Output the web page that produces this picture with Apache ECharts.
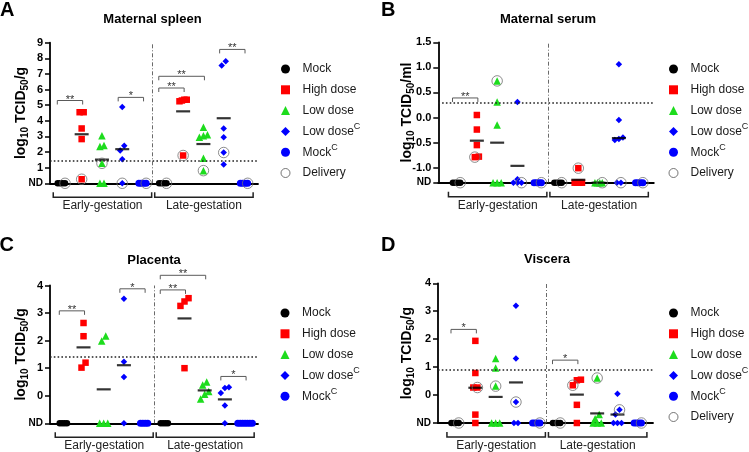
<!DOCTYPE html>
<html><head><meta charset="utf-8">
<script src="https://cdn.jsdelivr.net/npm/echarts@6/dist/echarts.min.js"></script>
<style>html,body{margin:0;padding:0;background:#fff}#c{width:749px;height:452px}</style>
</head><body><div id="c"></div>
<script>
// ---------------- data (log10 TCID50; 'ND' = not detected) ----------------
const groups = ['Mock', 'High dose', 'Low dose', 'Low dose^C', 'Mock^C'];
const gestations = ['Early-gestation', 'Late-gestation'];

// A  Maternal spleen
const spleenTicks = [0, 1, 2, 3, 4, 5, 6, 7, 8, 9];
const spleenLimit = 1.45;
const spleenEarly = [
  ['ND', 'ND', 'ND', 'ND'],
  [4.55, 4.55, 3.51, 2.83, 0.26],
  [3.04, 2.42, 2.36, 1.28, 'ND', 'ND'],
  [4.88, 2.40, 2.10, 1.54, 'ND'],
  ['ND', 'ND', 'ND', 'ND']
];
const spleenLate = [
  ['ND', 'ND', 'ND', 'ND'],
  [5.35, 5.35, 5.30, 5.25, 1.78],
  [3.58, 3.10, 3.04, 2.95, 1.60, 0.81],
  [7.82, 7.54, 3.51, 2.95, 1.97, 1.20],
  ['ND', 'ND', 'ND', 'ND']
];
const spleenEarlyDelivery = [['ND'], [0.26], [1.28], ['ND'], ['ND']];
const spleenLateDelivery = [['ND'], [1.78], [0.81], [1.97], ['ND']];
const spleenSig = [[0, 1, 5.3, '**'], [3, 4, 5.5, '*'], [5, 6, 6.1, '**'], [5, 7, 6.85, '**'], [8, 9, 8.57, '**']];

// B  Maternal serum
const serumTicks = [-1.3, -1.0, -0.5, 0.0, 0.5, 1.0, 1.5];
const serumLimit = 0.3;
const serumEarly = [
  ['ND', 'ND', 'ND', 'ND'],
  [0.05, -0.24, -0.55, -0.78, -0.79],
  [0.73, 0.31, -0.15, 'ND', 'ND', 'ND'],
  [0.31, -1.23, 'ND', 'ND', 'ND'],
  ['ND', 'ND', 'ND', 'ND']
];
const serumLate = [
  ['ND', 'ND', 'ND', 'ND'],
  [-1.01, 'ND', 'ND', 'ND', 'ND'],
  ['ND', 'ND', 'ND', 'ND'],
  [1.06, -0.05, -0.40, -0.43, -0.45, 'ND', 'ND'],
  ['ND', 'ND', 'ND', 'ND']
];
const serumEarlyDelivery = [['ND'], [-0.79], [0.73], ['ND'], ['ND']];
const serumLateDelivery = [['ND'], [-1.01], ['ND'], ['ND'], ['ND']];
const serumSig = [[0, 1, 0.39, '**']];

// C  Placenta
const placentaTicks = [-1, 0, 1, 2, 3, 4];
const placentaLimit = 1.43;
const placentaEarly = [
  ['ND', 'ND', 'ND', 'ND'],
  [2.64, 2.16, 1.20, 1.02],
  [2.17, 1.99, 'ND', 'ND', 'ND'],
  [3.52, 1.23, 0.68, 'ND'],
  ['ND', 'ND', 'ND', 'ND']
];
const placentaLate = [
  ['ND', 'ND', 'ND', 'ND'],
  [3.54, 3.42, 3.26, 1.00],
  [0.50, 0.39, 0.15, 0.05, -0.12],
  [0.31, 0.28, 0.10, -0.35, 'ND'],
  ['ND', 'ND', 'ND', 'ND', 'ND', 'ND', 'ND']
];
const placentaSig = [[0, 1, 3.08, '**'], [3, 4, 3.88, '*'], [5, 6, 3.84, '**'], [5, 7, 4.37, '**'], [8, 9, 0.7, '*']];

// D  Viscera
const visceraTicks = [-1, 0, 1, 2, 3, 4];
const visceraLimit = 0.92;
const visceraEarly = [
  ['ND', 'ND', 'ND', 'ND'],
  [1.94, 0.79, 0.27, 0.27, -0.70, 'ND'],
  [1.31, 0.97, 0.32, 'ND', 'ND', 'ND'],
  [3.20, 1.31, -0.25, 'ND', 'ND'],
  ['ND', 'ND', 'ND', 'ND']
];
const visceraLate = [
  ['ND', 'ND', 'ND', 'ND'],
  [0.55, 0.53, 0.35, -0.35, 'ND'],
  [0.61, -0.70, -0.85, 'ND', 'ND', 'ND'],
  [0.05, -0.53, -0.70, 'ND', 'ND', 'ND'],
  ['ND', 'ND', 'ND', 'ND']
];
const visceraEarlyDelivery = [['ND'], [0.27], [0.32], [-0.25], ['ND']];
const visceraLateDelivery = [['ND'], [0.35], [0.61], [-0.53], ['ND']];
const visceraSig = [[0, 1, 2.35, '*'], [5, 6, 1.25, '*']];

// ---------------- panels ----------------
const panels = [
  { letter: 'A', title: 'Maternal spleen', unit: 'g', ticks: spleenTicks, dec: 0, limit: spleenLimit,
    phases: [spleenEarly, spleenLate], delivery: [spleenEarlyDelivery, spleenLateDelivery], sig: spleenSig },
  { letter: 'B', title: 'Maternal serum', unit: 'ml', ticks: serumTicks, dec: 1, limit: serumLimit,
    phases: [serumEarly, serumLate], delivery: [serumEarlyDelivery, serumLateDelivery], sig: serumSig },
  { letter: 'C', title: 'Placenta', unit: 'g', ticks: placentaTicks, dec: 0, limit: placentaLimit,
    phases: [placentaEarly, placentaLate], delivery: null, sig: placentaSig },
  { letter: 'D', title: 'Viscera', unit: 'g', ticks: visceraTicks, dec: 0, limit: visceraLimit,
    phases: [visceraEarly, visceraLate], delivery: [visceraEarlyDelivery, visceraLateDelivery], sig: visceraSig }
];

// layout (pixels)
const layouts = [
  { grid: { left: 50, top: 42.7, width: 208, height: 140.6 }, xMin: -0.56, xMax: 9.69, legend: [280.5, 60], title: [152.5, 19], letter: [0, 10.5], nameGap: 20 },
  { grid: { left: 438.3, top: 42.3, width: 215.5, height: 140.4 }, xMin: -0.9, xMax: 9.72, legend: [668.5, 60], title: [548, 19], letter: [381, 10.5], nameGap: 22 },
  { grid: { left: 50, top: 285.5, width: 208, height: 137.8 }, xMin: -0.66, xMax: 9.64, legend: [280.5, 304], title: [154, 260.5], letter: [-0.5, 245.5], nameGap: 20 },
  { grid: { left: 438, top: 283.3, width: 215, height: 139.7 }, xMin: -0.84, xMax: 9.75, legend: [668.5, 304], title: [547, 259.5], letter: [381, 245.5], nameGap: 22 }
];

const FONT = '"Liberation Sans", Arial, Helvetica, sans-serif';
const symbols = ['circle', 'rect', 'triangle', 'diamond', 'circle'];
const colors = ['#000000', '#ff0000', '#1ddc1d', '#0000ff', '#0000ff'];
const sizes = [6.5, 6.5, 7.5, 6.5, 7];

// spread overlapping points horizontally (beeswarm-like rows)
function spread(vals, nd, tol) {
  const items = vals.map((v, i) => ({ v: v === 'ND' ? nd : v, isNd: v === 'ND', i, off: 0, used: false }));
  const sorted = items.slice().sort((a, b) => a.v - b.v || a.i - b.i);
  const clusters = [];
  sorted.forEach(it => {
    const last = clusters[clusters.length - 1];
    if (last) {
      const prev = last[last.length - 1];
      if (prev.isNd === it.isNd && it.v - prev.v < tol) { last.push(it); return; }
    }
    clusters.push([it]);
  });
  clusters.forEach(c => {
    const k = c.length, d = k <= 3 ? 0.2 : 0.12;
    c.forEach((it, j) => { it.off = (j - (k - 1) / 2) * d; });
  });
  return items;
}

const grids = [], xAxes = [], yAxes = [], series = [], legends = [], graphics = [];

panels.forEach((P, p) => {
  const L = layouts[p];
  const nd = P.ticks[0];
  const top = P.ticks[P.ticks.length - 1];
  const tol = 0.042 * (top - nd);

  grids.push(Object.assign({ containLabel: false, outerBoundsMode: 'none' }, L.grid));
  xAxes.push({
    type: 'value', gridIndex: p, min: L.xMin, max: L.xMax,
    axisLine: { show: true, onZero: false, lineStyle: { color: '#000', width: 1.8 } },
    axisTick: { show: false }, axisLabel: { show: false }, splitLine: { show: false }
  });
  yAxes.push({
    type: 'value', gridIndex: p, min: nd, max: top,
    axisLine: { show: true, onZero: false, lineStyle: { color: '#000', width: 1.8 } },
    axisTick: { show: true, length: 5, customValues: P.ticks, lineStyle: { color: '#000', width: 1.5 } },
    axisLabel: {
      customValues: P.ticks, margin: 7, color: '#000', fontWeight: 'bold', fontSize: 11, fontFamily: FONT,
      formatter: v => Math.abs(v - nd) < 1e-9 ? '{nd|ND}' : Number(v).toFixed(P.dec),
      rich: { nd: { fontSize: 10, fontWeight: 'bold', fontFamily: FONT, color: '#000' } }
    },
    splitLine: { show: false },
    name: `{b|log}{s|10}{b| TCID}{s|50}{b|/${P.unit}}`,
    nameLocation: 'middle', nameGap: L.nameGap, nameMoveOverlap: false,
    nameTextStyle: {
      rich: {
        b: { fontSize: 14, fontWeight: 'bold', fontFamily: FONT, color: '#000', lineHeight: 18 },
        s: { fontSize: 10, fontWeight: 'bold', fontFamily: FONT, color: '#000', lineHeight: 10, padding: [8, 0, 0, 0] }
      }
    }
  });

  // points
  const perGroup = [[], [], [], [], []];
  const deliv = [];
  const means = [];
  P.phases.forEach((phase, ph) => {
    phase.forEach((vals, t) => {
      const items = spread(vals, nd, tol);
      const gx = ph * 5 + t;
      items.forEach(it => perGroup[t].push([gx + it.off, it.v]));
      if (t >= 1 && t <= 3) {
        const m = items.reduce((s, it) => s + it.v, 0) / items.length;
        means.push([gx, m]);
      }
      if (P.delivery) {
        P.delivery[ph][t].forEach(dv => {
          const cand = items.filter(it => !it.used && (dv === 'ND' ? it.isNd : (!it.isNd && Math.abs(it.v - dv) < 1e-9)));
          if (cand.length) {
            const best = cand.reduce((a, b) => (b.off > a.off ? b : a));
            best.used = true;
            deliv.push([gx + best.off, best.v]);
          }
        });
      }
    });
  });

  groups.forEach((g, t) => {
    const s = {
      name: g, type: 'scatter', xAxisIndex: p, yAxisIndex: p,
      symbol: symbols[t], symbolSize: sizes[t], itemStyle: { color: colors[t], opacity: 1 },
      data: perGroup[t], z: 3, silent: true
    };
    if (t === 0) {
      s.markLine = {
        silent: true, symbol: ['none', 'none'], label: { show: false }, animation: false,
        data: [
          { xAxis: 4.5, lineStyle: { type: [4, 2, 1, 2], width: 0.8, color: '#444' } },
          { yAxis: P.limit, lineStyle: { type: [1.6, 2.2], width: 1.5, color: '#222' } }
        ]
      };
    }
    series.push(s);
  });
  if (P.delivery) {
    series.push({
      name: 'Delivery', type: 'scatter', xAxisIndex: p, yAxisIndex: p, symbol: 'circle', symbolSize: 10.5,
      itemStyle: { color: 'rgba(0,0,0,0)', borderColor: '#707070', borderWidth: 1 }, data: deliv, z: 6, silent: true
    });
  }
  series.push({
    name: 'mean', type: 'scatter', xAxisIndex: p, yAxisIndex: p, symbol: 'rect', symbolSize: [14, 2.2],
    itemStyle: { color: '#000' }, data: means, z: 5, silent: true
  });
  // significance brackets
  series.push({
    type: 'custom', xAxisIndex: p, yAxisIndex: p, clip: false, silent: true, z: 4,
    data: P.sig.map(r => [r[0], r[1], r[2]]),
    renderItem: (params, api) => {
      const r = P.sig[params.dataIndex];
      const a = api.coord([r[0] - 0.2, r[2]]);
      const b = api.coord([r[1] + 0.05, r[2]]);
      return {
        type: 'group', children: [
          { type: 'polyline', shape: { points: [[a[0], a[1] + 4], [a[0], a[1]], [b[0], b[1]], [b[0], b[1] + 4]] },
            style: { stroke: '#5a5a5a', lineWidth: 1, fill: null } },
          { type: 'text', x: (a[0] + b[0]) / 2, y: a[1] - 1,
            style: { text: r[3], align: 'center', verticalAlign: 'middle', fontSize: 11, fontFamily: FONT, fill: '#333' } }
        ]
      };
    }
  });
  // gestation brackets under the axis
  series.push({
    type: 'custom', xAxisIndex: p, yAxisIndex: p, clip: false, silent: true, z: 4,
    data: gestations.map((g, i) => [i * 5, i * 5 + 4]),
    renderItem: (params, api) => {
      const i = params.dataIndex;
      const a = api.coord([api.value(0) - 0.4, nd]);
      const b = api.coord([api.value(1) + 0.45, nd]);
      const y0 = a[1];
      return {
        type: 'group', children: [
          { type: 'polyline', shape: { points: [[a[0], y0 + 9], [a[0], y0 + 14], [b[0], y0 + 14], [b[0], y0 + 9]] },
            style: { stroke: '#222', lineWidth: 1.5, fill: null } },
          { type: 'text', x: (a[0] + b[0]) / 2, y: y0 + 22.5,
            style: { text: gestations[i], align: 'center', verticalAlign: 'middle', fontSize: 12, fontFamily: FONT, fill: '#222' } }
        ]
      };
    }
  });

  // legend
  const names = groups.slice();
  if (P.delivery) names.push('Delivery');
  legends.push({
    orient: 'vertical', left: L.legend[0], top: L.legend[1], padding: 0, itemGap: 2.8,
    itemWidth: 9, itemHeight: 9, selectedMode: false, align: 'left',
    data: names.map(n => n === 'Delivery'
      ? { name: n, icon: 'circle', itemStyle: { color: 'rgba(0,0,0,0)', borderColor: '#555', borderWidth: 1 } }
      : { name: n }),
    formatter: n => {
      const parts = n.split('^');
      return parts.length > 1 ? `{t|${parts[0]}}{p|${parts[1]}}` : `{t|${n}}`;
    },
    textStyle: {
      rich: {
        t: { fontSize: 12, fontFamily: FONT, color: '#1a1a1a', lineHeight: 14, padding: [3, 0, 3, 7.5] },
        p: { fontSize: 9, fontFamily: FONT, color: '#1a1a1a', lineHeight: 11, padding: [0, 0, 9, 0] }
      }
    }
  });

  // titles
  graphics.push({ type: 'text', x: L.letter[0], y: L.letter[1],
    style: { text: P.letter, align: 'left', verticalAlign: 'middle', fontSize: 20, fontWeight: 'bold', fontFamily: FONT, fill: '#000' } });
  graphics.push({ type: 'text', x: L.title[0], y: L.title[1],
    style: { text: P.title, align: 'center', verticalAlign: 'middle', fontSize: 13, fontWeight: 'bold', fontFamily: FONT, fill: '#000' } });
});

const chart = echarts.init(document.getElementById('c'), null, { renderer: 'canvas' });
chart.setOption({
  animation: false,
  backgroundColor: '#fff',
  grid: grids, xAxis: xAxes, yAxis: yAxes,
  legend: legends, series: series, graphic: graphics,
  tooltip: { show: false }
});
</script></body></html>
